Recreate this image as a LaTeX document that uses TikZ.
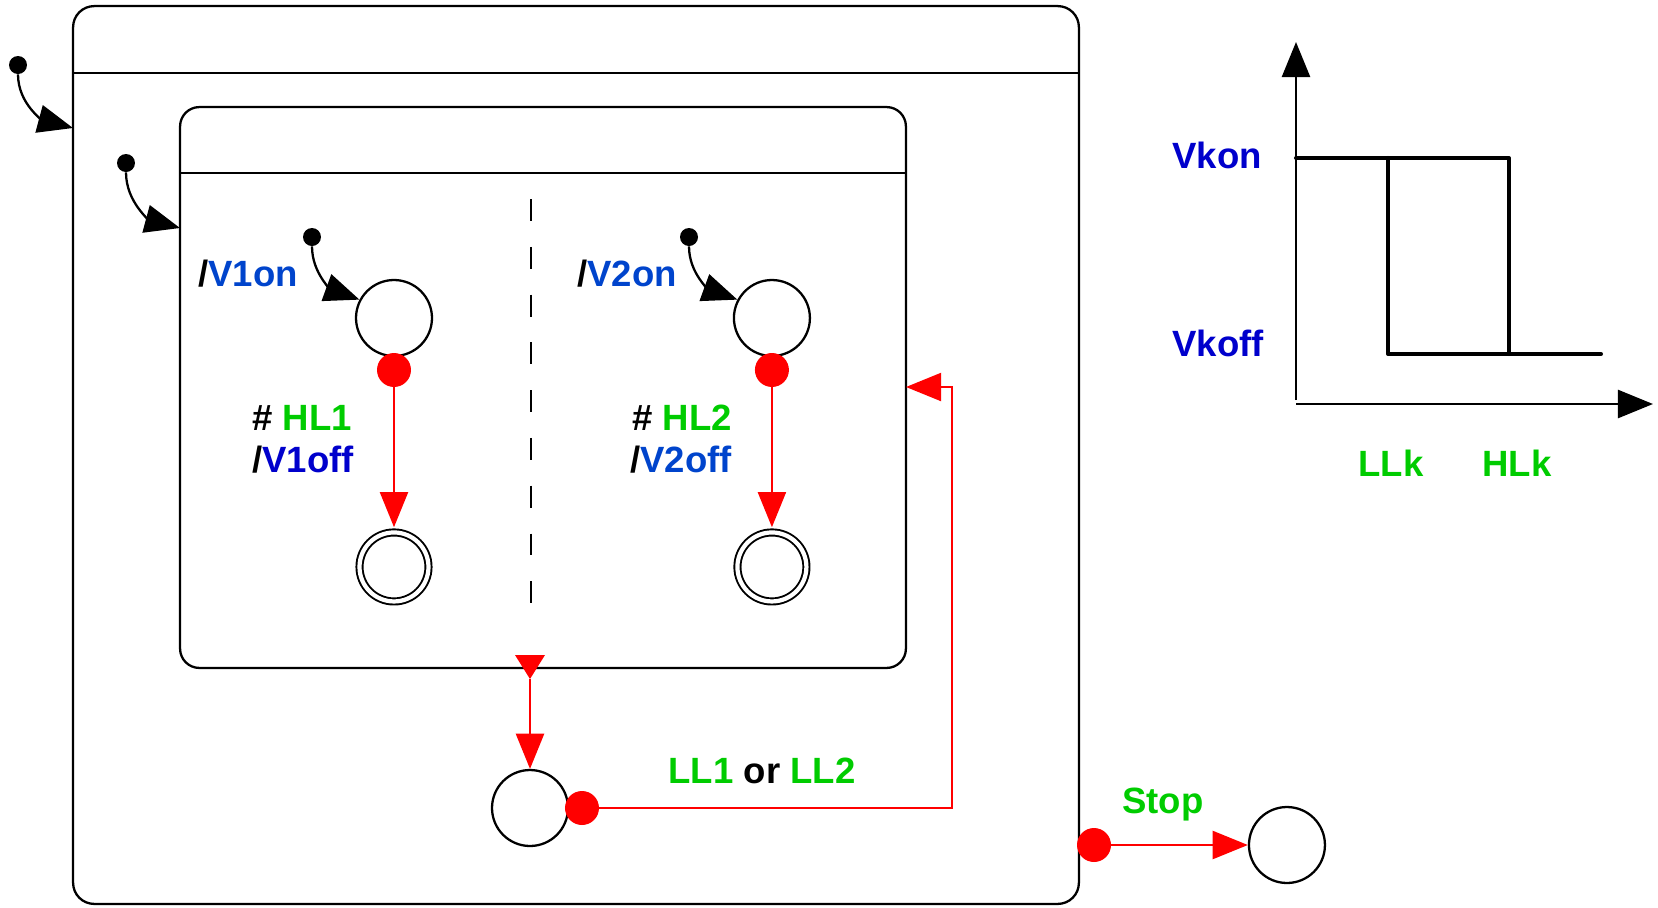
\documentclass[tikz,border=0pt]{standalone}
\usepackage{fontspec}
\setmainfont{Liberation Sans}
\definecolor{TrigGreen}{RGB}{0,204,0}
\definecolor{ActBlue}  {RGB}{0,68,204}
\definecolor{ActDark}  {RGB}{0,0,204}
\usetikzlibrary{arrows.meta,positioning,calc}

\begin{document}
\begin{tikzpicture}[x=0.02cm,y=-0.02cm,
  region/.style={draw,line width=1.3pt,rounded corners=12pt,outer sep=0pt},
  state/.style={draw,circle,line width=1.3pt,minimum size=1.52cm,inner sep=0pt},
  final/.style={state,double,double distance=2.4pt,line width=1.1pt,
                minimum size=1.38cm,outer sep=3pt},
  init/.style={fill,circle,inner sep=0pt,minimum size=0.36cm},
  hit/.style={fill=red,circle,inner sep=0pt,minimum size=0.68cm},
  lbl/.style={font=\fontsize{20.8}{25}\selectfont\bfseries,inner sep=0pt},
  ini/.style={line width=1.3pt,-{Triangle[length=20pt,width=16pt]}},
  tr/.style={red,line width=1.1pt,-{Triangle[length=20pt,width=16pt]}},
  hyst/.style={line width=2.3pt,line cap=round,line join=round}]
  \useasboundingbox (0,0) rectangle (1658,907);
  \node[region,minimum width=20.12cm,minimum height=17.96cm] (Sys) at (576,455) {};
  \draw[line width=1.3pt] (73,73) -- (1079,73);
  \node[region,rounded corners=11pt,minimum width=14.52cm,
        minimum height=11.22cm] (Par) at (543,387.5) {};
  \draw[line width=1.3pt] (180,173) -- (906,173);
  \draw[line width=1.1pt,dash pattern=on 12.5pt off 14.7pt] (531,199) -- (531,606);

  \node[state] (S1) at (394,318) {};
  \node[state,on grid,right=7.56cm of S1] (S2) {};
  \node[final,on grid,below=4.98cm of S1] (F1) {};
  \node[final,on grid,below=4.98cm of S2] (F2) {};
  \node[hit,on grid,below=1.04cm of S1] (H1) {};
  \node[hit,on grid,below=1.04cm of S2] (H2) {};
  \node[init] (I0) at (18,65) {};
  \node[init] (I1) at (126,163) {};
  \node[init] (I2) at (312,237) {};
  \node[init] (I3) at (689,237) {};
  \coordinate (SysIn) at (73,128);
  \coordinate (ParIn) at (180,228);
  \draw[ini] (I0) to[out=-90,in=165] (SysIn);
  \draw[ini] (I1) to[out=-90,in=165] (ParIn);
  \draw[ini] (I2) to[out=-90,in=160] (S1.152);
  \draw[ini] (I3) to[out=-90,in=160] (S2.152);
  \draw[tr] (H1) -- (F1);
  \draw[tr] (H2) -- (F2);

  \node[state] (B) at (530,808) {};
  \node[hit,on grid,right=1.04cm of B] (HB) {};
  \coordinate (PX) at (530,679);
  \fill[red] ($(PX)+(-15,-24)$) -- ($(PX)+(15,-24)$) -- (PX) -- cycle;
  \draw[tr] (PX) -- (B);
  \coordinate (PR) at (906,387);
  \draw[tr] (HB) -| ($(PR)+(46,0)$) -- (PR);
  \node[hit] (HS) at (1094,845) {};
  \node[state,on grid,right=3.86cm of HS] (T) {};
  \draw[tr] (HS) -- (T);

  \node[lbl,anchor=base west] (L1on) at (198,286) {/\textcolor{ActBlue}{V1on}};
  \node[lbl,anchor=base] (L1hl) at (302,430) {\# \textcolor{TrigGreen}{HL1}};
  \node[lbl,anchor=base] (L1off) at (303,472) {/\textcolor{ActDark}{V1off}};
  \node[lbl,anchor=base west] (L2on) at (577,286) {/\textcolor{ActBlue}{V2on}};
  \node[lbl,anchor=base] (L2hl) at (682,430) {\# \textcolor{TrigGreen}{HL2}};
  \node[lbl,anchor=base] (L2off) at (681,472) {/\textcolor{ActBlue}{V2off}};
  \node[lbl,anchor=base] (LLow) at (762,783)
       {\textcolor{TrigGreen}{LL1} or \textcolor{TrigGreen}{LL2}};
  \node[lbl,anchor=base,text=TrigGreen] (LStop) at (1163,813) {Stop};

  \coordinate (O) at (1296,404);
  \draw[line width=1.4pt,-{Triangle[length=20pt,width=16pt]}] (1296,400) -- (1296,42);
  \draw[line width=1.4pt,-{Triangle[length=20pt,width=16pt]}] (O) -- (1653,404);
  \draw[hyst] (1296,158) -- (1509,158) -- (1509,354);
  \draw[hyst] (1388,158) -- (1388,354) -- (1601,354);
  \node[lbl,anchor=base west,text=ActDark] (LKon) at (1172,168) {Vkon};
  \node[lbl,anchor=base west,text=ActDark] (LKoff) at (1172,356) {Vkoff};
  \node[lbl,anchor=base,text=TrigGreen] (LLk) at (1391,476) {LLk};
  \node[lbl,anchor=base,text=TrigGreen] (LHk) at (1517,476) {HLk};
\end{tikzpicture}
\end{document}
